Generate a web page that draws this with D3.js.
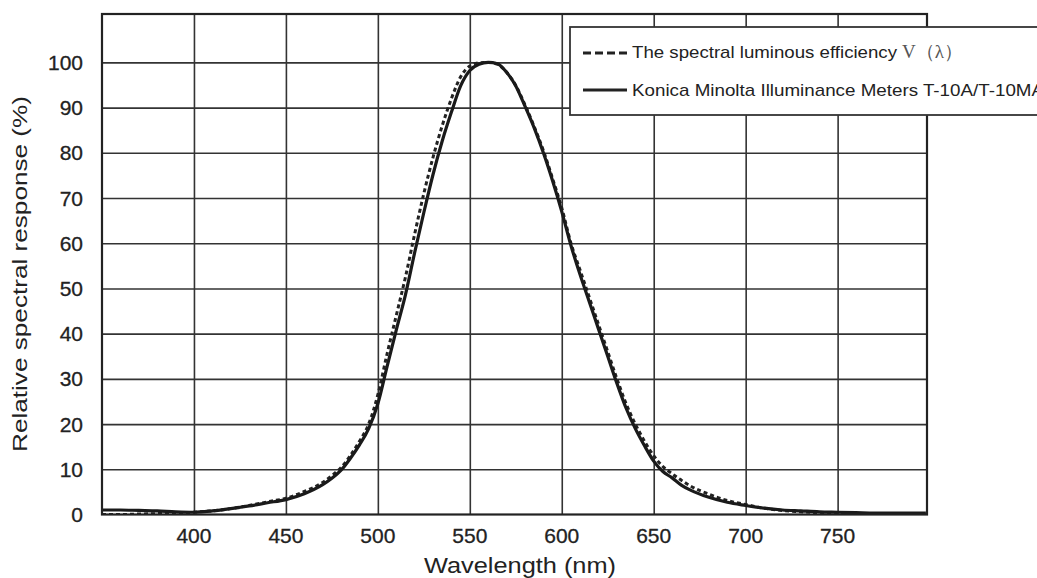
<!DOCTYPE html>
<html>
<head>
<meta charset="utf-8">
<script src="https://cdn.jsdelivr.net/npm/d3@7"></script>
<style>
  body { margin: 0; background: #fff; }
  svg text { font-family: "Liberation Sans", Arial, sans-serif; fill: #222; }
</style>
</head>
<body>
<div id="chart"></div>
<script>
// wavelength samples (nm)
var wavelengths = [350, 360, 370, 380, 390, 400, 410, 420, 430, 440, 450, 460, 470, 475, 480, 485,
  490, 495, 500, 505, 510, 515, 520, 525, 530, 535, 540, 545, 550, 555, 560, 565, 570, 575,
  580, 585, 590, 595, 600, 605, 610, 615, 620, 625, 630, 635, 640, 645, 650, 655, 660, 665,
  670, 680, 690, 700, 710, 720, 730, 740, 750, 760, 770, 780, 790, 798];

// V(lambda), dashed
var luminousEfficiency = [0, 0, 0.1, 0.2, 0.3, 0.5, 0.8, 1.3, 2.0, 2.8, 3.6, 5.1, 7.1, 8.6, 10.4, 13.0,
  16.2, 20.0, 26.5, 35.5, 44, 52.5, 62, 71, 79, 86, 92, 96.8, 99.2, 99.9, 100, 99.6, 97.8, 94.9,
  90.6, 85.8, 80.5, 74.3, 67.8, 60, 54, 48, 42, 36, 30, 24.5, 20, 16.2, 13, 10.6, 9, 7.6,
  6.3, 4.5, 3.1, 2.2, 1.4, 0.9, 0.6, 0.4, 0.3, 0.2, 0.1, 0.1, 0, 0];

// T-10A / T-10MA response, solid
var meterResponse = [1.0, 1.0, 0.9, 0.8, 0.6, 0.5, 0.8, 1.3, 1.9, 2.6, 3.3, 4.6, 6.6, 8.0, 9.8, 12.4,
  15.4, 19.0, 24.5, 32.7, 40.8, 48.6, 57.9, 66.8, 75.2, 82.6, 89.0, 94.8, 98.2, 99.6, 100, 99.7, 97.8, 94.8,
  90.3, 85.5, 80, 73.8, 67, 59.5, 53, 47, 41, 35, 29, 23.5, 19, 15.2, 11.8, 9.5, 8.1, 6.5,
  5.4, 3.8, 2.7, 2.0, 1.4, 1.0, 0.8, 0.6, 0.5, 0.4, 0.3, 0.3, 0.3, 0.3];

var xTicks = [400, 450, 500, 550, 600, 650, 700, 750];
var yTicks = [0, 10, 20, 30, 40, 50, 60, 70, 80, 90, 100];
var legendLabels = ["The spectral luminous efficiency", "Konica Minolta Illuminance Meters T-10A/T-10MA"];

var W = 1037, H = 578;
// plot box (window.top is reserved, so prefixed names)
var pLeft = 102, pRight = 927, pTop = 14, pBottom = 514.5;

var svg = d3.select("#chart").append("svg")
  .attr("width", W)
  .attr("height", H);

var x = d3.scaleLinear().domain([350, 798.6]).range([pLeft, pRight]);
var y = d3.scaleLinear().domain([0, 110.7]).range([pBottom, pTop]);

// grid
svg.append("g")
  .attr("transform", "translate(0," + pBottom + ")")
  .call(d3.axisBottom(x).tickValues(xTicks).tickSize(-(pBottom - pTop)).tickFormat(""))
  .call(g => g.select(".domain").remove())
  .call(g => g.selectAll("line").attr("stroke", "#333").attr("stroke-width", 1.6));

svg.append("g")
  .attr("transform", "translate(" + pLeft + ",0)")
  .call(d3.axisLeft(y).tickValues(yTicks.filter(d => d > 0)).tickSize(-(pRight - pLeft)).tickFormat(""))
  .call(g => g.select(".domain").remove())
  .call(g => g.selectAll("line").attr("stroke", "#333").attr("stroke-width", 1.6));

// tick labels
svg.selectAll("text.xlab")
  .data(xTicks)
  .enter().append("text")
  .attr("class", "xlab")
  .attr("x", d => x(d))
  .attr("y", 543)
  .attr("text-anchor", "middle")
  .attr("font-size", 21)
  .attr("stroke", "#222").attr("stroke-width", 0.3)
  .text(d => d);

svg.selectAll("text.ylab")
  .data(yTicks)
  .enter().append("text")
  .attr("class", "ylab")
  .attr("x", 83)
  .attr("y", d => y(d) + 7.5)
  .attr("text-anchor", "end")
  .attr("font-size", 21)
  .attr("stroke", "#222").attr("stroke-width", 0.3)
  .text(d => d);

// axis titles
svg.append("text")
  .attr("x", 520)
  .attr("y", 573)
  .attr("text-anchor", "middle")
  .attr("font-size", 22)
  .attr("textLength", 192)
  .attr("lengthAdjust", "spacingAndGlyphs")
  .text("Wavelength (nm)");

svg.append("text")
  .attr("transform", "translate(27,274) rotate(-90)")
  .attr("text-anchor", "middle")
  .attr("font-size", 21)
  .attr("textLength", 356)
  .attr("lengthAdjust", "spacingAndGlyphs")
  .text("Relative spectral response (%)");

// curves
svg.append("clipPath").attr("id", "plotClip")
  .append("rect")
  .attr("x", pLeft).attr("y", pTop)
  .attr("width", pRight - pLeft).attr("height", pBottom - pTop);

var line = d3.line()
  .x((d, i) => x(wavelengths[i]))
  .y(d => y(d))
  .curve(d3.curveMonotoneX);

svg.append("path")
  .attr("clip-path", "url(#plotClip)")
  .attr("d", line(luminousEfficiency))
  .attr("fill", "none")
  .attr("stroke", "#222")
  .attr("stroke-width", 3)
  .attr("stroke-dasharray", "4,3");

svg.append("path")
  .attr("clip-path", "url(#plotClip)")
  .attr("d", line(meterResponse))
  .attr("fill", "none")
  .attr("stroke", "#1a1a1a")
  .attr("stroke-width", 3.2);

// frame
svg.append("rect")
  .attr("x", pLeft).attr("y", pTop)
  .attr("width", pRight - pLeft).attr("height", pBottom - pTop)
  .attr("fill", "none")
  .attr("stroke", "#222")
  .attr("stroke-width", 2.2);

// legend
var legend = svg.append("g");
legend.append("rect")
  .attr("x", 570).attr("y", 27)
  .attr("width", 500).attr("height", 88)
  .attr("fill", "#fff")
  .attr("stroke", "#333")
  .attr("stroke-width", 1.8);

legend.append("line")
  .attr("x1", 583).attr("x2", 627).attr("y1", 53).attr("y2", 53)
  .attr("stroke", "#222").attr("stroke-width", 3).attr("stroke-dasharray", "8,4");
legend.append("line")
  .attr("x1", 583).attr("x2", 627).attr("y1", 90).attr("y2", 90)
  .attr("stroke", "#222").attr("stroke-width", 3);

var t1 = legend.append("text")
  .attr("x", 632).attr("y", 58)
  .attr("font-size", 17);
t1.append("tspan")
  .attr("textLength", 265)
  .attr("lengthAdjust", "spacingAndGlyphs")
  .text(legendLabels[0]);
t1.append("tspan")
  .attr("dx", 5)
  .attr("font-family", "'Liberation Serif', serif")
  .attr("font-size", 19)
  .style("fill", "#555")
  .text("V（λ）");

legend.append("text")
  .attr("x", 632).attr("y", 96)
  .attr("font-size", 17)
  .attr("textLength", 412)
  .attr("lengthAdjust", "spacingAndGlyphs")
  .text(legendLabels[1]);
</script>
</body>
</html>
